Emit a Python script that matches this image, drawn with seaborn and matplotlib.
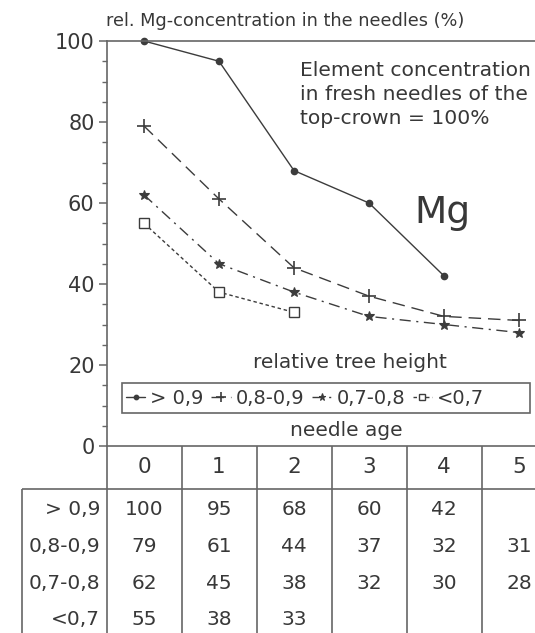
import matplotlib
matplotlib.use('Agg')
import matplotlib.pyplot as plt
import seaborn as sns
import pandas as pd
from matplotlib.patches import Rectangle
from matplotlib.ticker import MultipleLocator

# ---------------- data ----------------
ages = [0, 1, 2, 3, 4, 5]
height_labels = ["> 0,9", "0,8-0,9", "0,7-0,8", "<0,7"]
mg_gt_09 = [100, 95, 68, 60, 42]
mg_08_09 = [79, 61, 44, 37, 32, 31]
mg_07_08 = [62, 45, 38, 32, 30, 28]
mg_lt_07 = [55, 38, 33]
series = [mg_gt_09, mg_08_09, mg_07_08, mg_lt_07]
y_ticks = [0, 20, 40, 60, 80, 100]

title_text = "rel. Mg-concentration in the needles (%)"
note_text = "Element concentration\nin fresh needles of the\ntop-crown = 100%"
element_text = "Mg"
legend_title = "relative tree height"
xaxis_title = "needle age"

# ---------------- style ----------------
sns.set_theme(style='white')
plt.rcParams['font.family'] = ['DejaVu Sans']
TXT = '#383838'
LINE = '#3c3c3c'
FRAME = '#666666'

W, H = 535, 633
fig = plt.figure(figsize=(W / 100, H / 100), dpi=100)


def fx(px):
    return px / W


def fy(py):
    return 1 - py / H


ax_left, ax_right, ax_top, ax_bot = 107, 535, 41, 446
x0_px, step_px = 144, 75
xlim = ((ax_left - x0_px) / step_px, (ax_right - x0_px) / step_px)

ax = fig.add_axes([fx(ax_left), fy(ax_bot), (ax_right - ax_left) / W, (ax_bot - ax_top) / H])
tab = fig.add_axes([fx(ax_left), 0, (ax_right - ax_left) / W, (H - ax_bot) / H])

styles = [
    dict(marker='o', markersize=4.5, mfc=LINE, mew=1.0, dashes=None),
    dict(marker='+', markersize=10, mfc=LINE, mew=1.2, dashes=(9, 5)),
    dict(marker='*', markersize=7.5, mfc=LINE, mew=0.8, dashes=(8, 4, 1.5, 4)),
    dict(marker='s', markersize=7, mfc='white', mew=1.0, dashes=(2.5, 2)),
]

handles = []
for lbl, vals, st in zip(height_labels, series, styles):
    df = pd.DataFrame({'age': ages[:len(vals)], 'value': vals})
    sns.lineplot(data=df, x='age', y='value', ax=ax, color=LINE, lw=1.0,
                 marker=st['marker'], markersize=st['markersize'],
                 markerfacecolor=st['mfc'], markeredgecolor=LINE,
                 markeredgewidth=st['mew'], legend=False, clip_on=False)
    line = ax.lines[-1]
    line.set_label(lbl)
    if st['dashes'] is not None:
        line.set_dashes(st['dashes'])
    handles.append(line)

ax.set_xlim(*xlim)
ax.set_ylim(0, 100)
ax.set_xticks([])
ax.set_yticks(y_ticks)
ax.yaxis.set_minor_locator(MultipleLocator(5))
ax.tick_params(axis='y', which='major', direction='out', length=6, width=1.1,
               color=FRAME, labelsize=15, labelcolor=TXT, pad=3, left=True)
ax.tick_params(axis='y', which='minor', direction='out', length=3.5, width=1.0,
               color=FRAME, left=True)
ax.set_xlabel('')
ax.set_ylabel('')
for s in ['left', 'top', 'bottom']:
    ax.spines[s].set_visible(True)
    ax.spines[s].set_color(FRAME)
    ax.spines[s].set_linewidth(1.2)
ax.spines['right'].set_visible(False)


def axx(px):
    return (px - ax_left) / (ax_right - ax_left)


def axy(py):
    return (ax_bot - py) / (ax_bot - ax_top)


# texts
fig.text(fx(106), fy(21), title_text, ha='left', va='center', fontsize=12.8, color=TXT)
ax.text(axx(300), axy(61), note_text, transform=ax.transAxes, ha='left', va='top',
        fontsize=14.6, color=TXT, linespacing=1.32)
ax.text(axx(414), axy(213), element_text, transform=ax.transAxes, ha='left',
        va='center', fontsize=27, color=TXT)
ax.text(axx(350), axy(362), legend_title, transform=ax.transAxes, ha='center',
        va='center', fontsize=14.5, color=TXT)
ax.text(axx(346), axy(430), xaxis_title, transform=ax.transAxes, ha='center',
        va='center', fontsize=14.5, color=TXT)

# legend box + legend
bx0, bx1 = axx(122), axx(530)
by0, by1 = axy(413), axy(383)
ax.add_patch(Rectangle((bx0, by0), bx1 - bx0, by1 - by0, transform=ax.transAxes,
                       facecolor='white', edgecolor=FRAME, lw=1.2, zorder=4))
leg = ax.legend(handles=handles, labels=height_labels, loc='center left',
                bbox_to_anchor=(bx0, (by0 + by1) / 2), ncol=4, frameon=False,
                fontsize=14, handlelength=1.0, handletextpad=0.25, columnspacing=0.4,
                borderaxespad=0, borderpad=0.2, labelcolor=TXT)
leg.set_zorder(5)
for h in leg.legend_handles:
    h.set_markersize(h.get_markersize() * 0.7)

# ---------------- table ----------------
tab.set_xlim(*xlim)
tab.set_ylim(H, ax_bot)
tab.axis('off')
hdr_line = 489.5
box_left = (22 - x0_px) / step_px
row_h = 36.7
kw = dict(color=FRAME, lw=1.2, clip_on=False)
tab.vlines([a + 0.5 for a in ages[:-1]], ax_bot, H, **kw)
tab.vlines(xlim[0], ax_bot, H, **kw)
tab.hlines(hdr_line, box_left, xlim[1], **kw)
tab.vlines(box_left, hdr_line, H, **kw)
for a in ages:
    tab.text(a, 467.5, str(a), ha='center', va='center', fontsize=15.5, color=TXT)
for i, (lbl, vals) in enumerate(zip(height_labels, series)):
    yc = hdr_line + 2 + (i + 0.5) * row_h
    tab.text((100 - x0_px) / step_px, yc, lbl, ha='right', va='center', fontsize=14.5,
             color=TXT, clip_on=False)
    for a, v in zip(ages, vals):
        tab.text(a, yc, str(v), ha='center', va='center', fontsize=14.5, color=TXT)

fig.savefig('out.png', dpi=100)
